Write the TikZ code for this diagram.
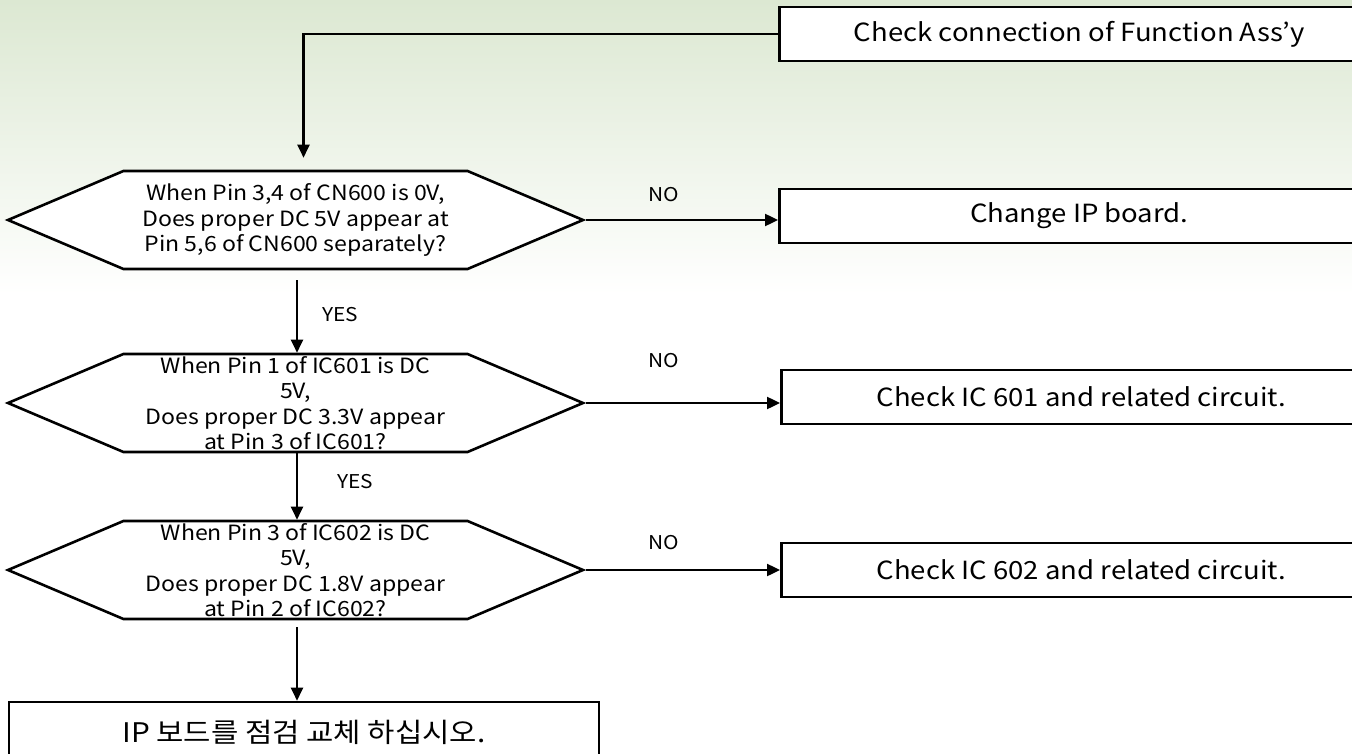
\documentclass[tikz,border=0pt]{standalone}
\usepackage{fontspec}
\setmainfont[FakeStretch=1.1]{Noto Sans CJK KR}
\usepackage{xcolor}
\usetikzlibrary{arrows.meta,shapes.symbols}
\definecolor{bgtop}{RGB}{220,232,210}

\begin{document}
\begin{tikzpicture}[x=1pt, y=-1pt,
    flow/.style={line width=2.4pt, -{Triangle[length=13pt,width=12pt]}},
    question/.style={signal, signal to=east and west, signal pointer angle=46,
      draw, line width=2.6pt, fill=white, minimum width=575pt, minimum height=98pt,
      inner sep=0pt, align=center, font=\fontsize{21}{25.5}\selectfont},
    action/.style={rectangle, draw, line width=2.6pt, fill=white, anchor=west,
      minimum width=600pt, minimum height=54pt, font=\fontsize{25}{28}\selectfont},
    answer/.style={font=\fontsize{19}{22}\selectfont}]
  \useasboundingbox (0,0) rectangle (1352,754);
  \clip (0,0) rectangle (1352,754);
  % background
  \shade[top color=bgtop, bottom color=white] (0,0) rectangle (1352,295);
  % action boxes
  \node[action] (chk) at (778,34) {Check connection of Function Ass’y};
  \node[action] (chip) at (778,216) {Change IP board.};
  \node[action] (chic1) at (780,397) {Check IC 601 and related circuit.};
  \node[action] (chic2) at (780,570) {Check IC 602 and related circuit.};
  \node[action, anchor=center, minimum width=590pt, minimum height=60pt,
    font=\fontsize{27}{30}\selectfont] (swap) at (304,732) {IP 보드를 점검 교체 하십시오.};
  % questions
  \node[question] (q1) at (295.5,220) {When Pin 3,4 of CN600 is 0V,\\Does proper DC 5V appear at\\Pin 5,6 of CN600 separately?};
  \node[question] (q2) at (295.5,403) {When Pin 1 of IC601 is DC\\5V,\\Does proper DC 3.3V appear\\at Pin 3 of IC601?};
  \node[question] (q3) at (295.5,570) {When Pin 3 of IC602 is DC\\5V,\\Does proper DC 1.8V appear\\at Pin 2 of IC602?};
  % connectors
  \draw[flow, shorten >=12pt] (chk.west) -| ([xshift=8pt]q1.north);
  \draw[flow] (q1.east) -- (q1.east -| chip.west);
  \draw[flow] (q2.east) -- (q2.east -| chic1.west);
  \draw[flow] (q3.east) -- (q3.east -| chic2.west);
  \draw[flow, shorten <=10pt] ([xshift=1.5pt]q1.south) -- ([xshift=1.5pt]q2.north);
  \draw[flow] ([xshift=1.5pt]q2.south) -- ([xshift=1.5pt]q3.north);
  \draw[flow, shorten <=7pt] ([xshift=1.5pt]q3.south) -- ([xshift=1.5pt]q3.south |- swap.north);
  % answers
  \node[answer] (no1) at (664,195) {NO};
  \node[answer] (no2) at (664,361) {NO};
  \node[answer] (no3) at (664,543) {NO};
  \node[answer] (yes1) at (340,315) {YES};
  \node[answer] (yes2) at (355,482) {YES};
\end{tikzpicture}
\end{document}
